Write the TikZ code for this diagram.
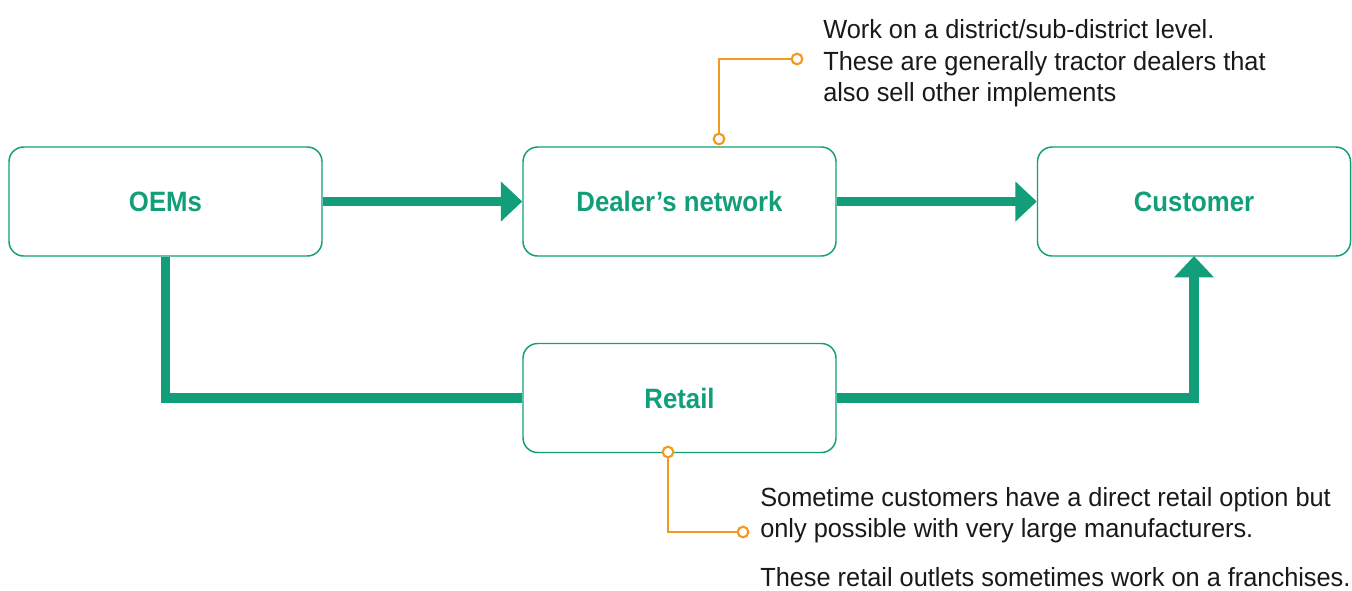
\documentclass[tikz,border=0pt]{standalone}
\usepackage{fontspec}
\setmainfont{Liberation Sans}[FakeStretch=0.965]
\usetikzlibrary{arrows.meta}
\definecolor{grn}{HTML}{119E78}
\definecolor{org}{HTML}{F39A1E}
\begin{document}
\begin{tikzpicture}[x=0.75pt,y=-0.75pt,
  box/.style={draw=grn,line width=1.1pt,rounded corners=11pt,minimum width=313*0.75pt,minimum height=109*0.75pt,inner sep=0pt,
    font=\fontsize{21}{24}\selectfont\bfseries\addfontfeature{FakeStretch=0.92},text=grn},
  flow/.style={draw=grn,line width=6.8pt},
  flowarr/.style={flow,-{Triangle[length=16pt,width=29pt]}},
  call/.style={draw=org,line width=1.6pt},
  dot/.style={circle,draw=org,line width=1.6pt,fill=white,minimum size=8pt,inner sep=0pt},
  note/.style={anchor=north west,align=left,inner sep=0pt,font=\fontsize{19.7}{23.6}\selectfont,text=black!90}]
\useasboundingbox (0,0) rectangle (1352,590);
\node[box] (oem) at (165.5,201.5) {OEMs};
\node[box] (deal) at (679.5,201.5) {Dealer’s network};
\node[box] (cust) at (1194,201.5) {Customer};
\node[box] (ret) at (679.5,398) {Retail};
\draw[flowarr] (oem.east) -- (deal.west);
\draw[flowarr] (deal.east) -- (cust.west);
\draw[flow] ([yshift=-0.5pt]oem.south) |- (ret.west);
\draw[flowarr] (ret.east) -| ([yshift=0.5pt]cust.south);
% callouts
\coordinate (c1) at (719,139);
\coordinate (c2) at (797,59);
\draw[call] (c1) |- (c2);
\node[dot] (d1) at (c1) {};
\node[dot] (d2) at (c2) {};
\node[note] (n1) at (823,19.5) {Work on a district/sub-district level.\\These are generally tractor dealers that\\also sell other implements};
\coordinate (c3) at (668,452);
\coordinate (c4) at (743,532);
\draw[call] (c3) |- (c4);
\node[dot] (d3) at (c3) {};
\node[dot] (d4) at (c4) {};
\node[note] (n2) at (760,487) {Sometime customers have a direct retail option but\\only possible with very large manufacturers.};
\node[note] (n3) at (760,567) {These retail outlets sometimes work on a franchises.};
\end{tikzpicture}
\end{document}
